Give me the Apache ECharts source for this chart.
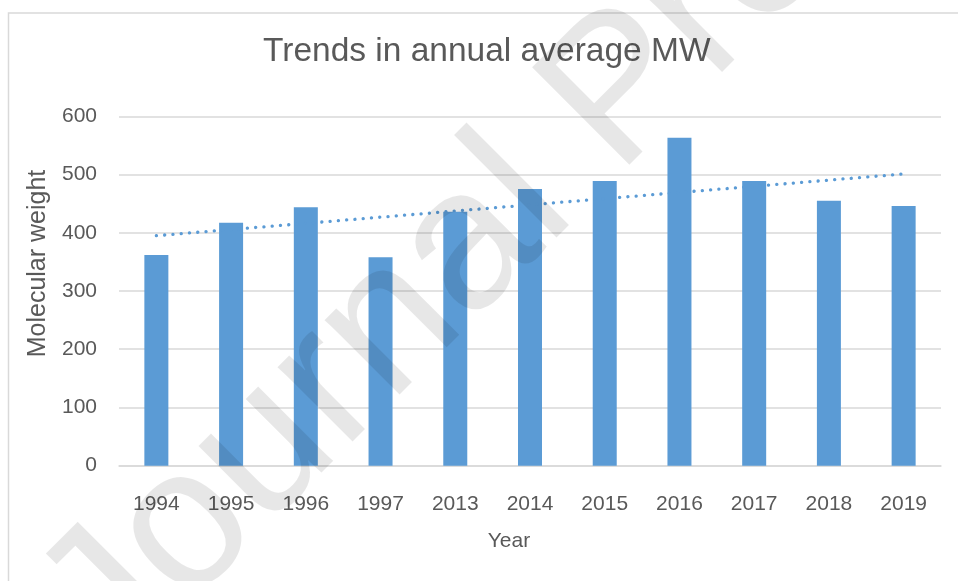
<!DOCTYPE html>
<html>
<head>
<meta charset="utf-8">
<script src="https://cdn.jsdelivr.net/npm/echarts@6/dist/echarts.min.js"></script>
<style>
html,body{margin:0;padding:0;background:#fff;}
#chart{width:958px;height:581px;}
</style>
</head>
<body>
<div id="chart"></div>
<script>
var years = ['1994','1995','1996','1997','2013','2014','2015','2016','2017','2018','2019'];
var avgMW = [362, 417, 444, 358, 436, 475, 489, 563, 489, 455, 446];
var trendEnds = [['1994', 395], ['2019', 501]];
var yTicks = {min: 0, max: 600, interval: 100};

var FONT = 'Liberation Sans';
var TXT = '#595959';
var GRID = '#d9d9d9';
var BLUE = '#5B9BD5';

var chart = echarts.init(document.getElementById('chart'));
chart.setOption({
  animation: false,
  backgroundColor: '#ffffff',
  title: {
    text: 'Trends in annual average MW',
    left: 263,
    top: 35,
    padding: 0,
    textStyle: {fontFamily: FONT, fontSize: 33.5, fontWeight: 'normal', color: TXT}
  },
  grid: {left: 119, right: 17, top: 116.3, bottom: 115.3, containLabel: false},
  xAxis: {
    type: 'category',
    data: years,
    name: 'Year',
    nameLocation: 'middle',
    nameGap: 65,
    nameTextStyle: {fontFamily: FONT, fontSize: 21, color: TXT, padding: [0, 42, 0, 0]},
    axisLine: {show: true, lineStyle: {color: GRID, width: 1.5}},
    axisTick: {show: false},
    axisLabel: {margin: 28, fontFamily: FONT, fontSize: 21, color: TXT}
  },
  yAxis: {
    type: 'value',
    min: yTicks.min,
    max: yTicks.max,
    interval: yTicks.interval,
    name: 'Molecular weight',
    nameLocation: 'middle',
    nameGap: 64,
    nameTextStyle: {fontFamily: FONT, fontSize: 25, color: TXT, padding: [0, 0, 0, 55]},
    axisLine: {show: false},
    axisTick: {show: false},
    axisLabel: {margin: 22, fontFamily: FONT, fontSize: 21, color: TXT},
    splitLine: {show: true, lineStyle: {color: GRID, width: 1.5}}
  },
  series: [
    {
      type: 'bar',
      data: avgMW,
      barWidth: 24,
      itemStyle: {color: BLUE},
      z: 2
    },
    {
      type: 'line',
      data: trendEnds,
      symbol: 'none',
      lineStyle: {color: BLUE, width: 3.3, type: [0.1, 8.2], cap: 'round'},
      z: 3
    }
  ],
  graphic: [
    {
      type: 'rect',
      shape: {x: 8.5, y: 13, width: 1000, height: 700},
      style: {fill: 'none', stroke: GRID, lineWidth: 1.5},
      silent: true,
      z: 1
    },
    {
      type: 'text',
      x: 622,
      y: 94,
      rotation: Math.PI / 4,
      style: {
        text: 'Journal Pre-proof',
        fontFamily: FONT,
        fontSize: 200,
        fill: 'rgba(0,0,0,0.095)',
        align: 'center',
        verticalAlign: 'middle'
      },
      silent: true,
      z: 100
    }
  ]
});
</script>
</body>
</html>
